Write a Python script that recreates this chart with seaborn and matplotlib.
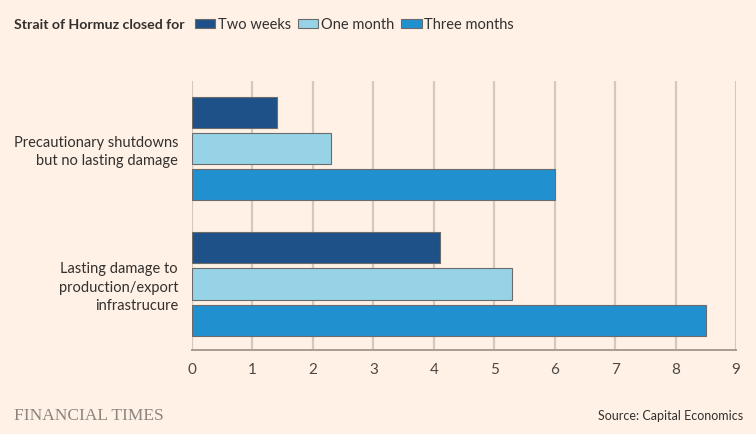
import matplotlib
matplotlib.use("Agg")
import matplotlib.pyplot as plt
import seaborn as sns
import pandas as pd
from matplotlib.patches import Patch

categories = ["Precautionary shutdowns\nbut no lasting damage",
              "Lasting damage to\nproduction/export\ninfrastrucure"]
durations = ["Two weeks", "One month", "Three months"]
two_weeks = [1.4, 4.1]
one_month = [2.3, 5.3]
three_months = [6.0, 8.5]
x_ticks = [0, 1, 2, 3, 4, 5, 6, 7, 8, 9]

bg = "#FFF1E5"
colors = ["#1F5189", "#96D3E6", "#2190CF"]

rows = []
for dur, vals in zip(durations, [two_weeks, one_month, three_months]):
    for cat, v in zip(categories, vals):
        rows.append({"category": cat, "duration": dur, "value": v})
df = pd.DataFrame(rows)

sns.set_theme(style="white")
plt.rcParams["font.family"] = ["Lato", "DejaVu Sans"]

fig = plt.figure(figsize=(7.56, 4.34), dpi=100, facecolor=bg)
ax = fig.add_axes([192/756, 1-350/434, (736-192)/756, (350-81)/434])
ax.set_facecolor(bg)

sns.barplot(data=df, y="category", x="value", hue="duration",
            order=categories, hue_order=durations, palette=colors,
            orient="h", width=0.8, gap=0.14, edgecolor="#6b6b6b", linewidth=0.8,
            ax=ax, legend=False, saturation=1)

ax.set_xlim(0, 9)
ax.set_ylim(1.487, -0.498)
ax.set_xticks(x_ticks)
ax.set_xticklabels([str(t) for t in x_ticks])
ax.xaxis.grid(True, color="#D4C9BE", linewidth=1.6)
ax.set_axisbelow(True)
for s in ["top", "right", "left"]:
    ax.spines[s].set_visible(False)
ax.spines["bottom"].set_color("#A69C93")
ax.spines["bottom"].set_linewidth(1.4)
ax.tick_params(axis="x", length=6, width=1.2, color="#A69C93",
               labelsize=11, labelcolor="#4d4845", pad=3)
ax.tick_params(axis="y", length=0, labelsize=10.5, labelcolor="#33302E", pad=10)
for lbl in ax.get_yticklabels():
    lbl.set_horizontalalignment("right")
    lbl.set_multialignment("right")
    lbl.set_linespacing(1.4)
ax.set_xlabel("")
ax.set_ylabel("")

# Title/legend line
fig.text(14/756, 1-25/434, "Strait of Hormuz closed for", fontsize=10.2,
         fontweight="bold", color="#33302E", va="center", ha="left")
handles = [Patch(facecolor=c, edgecolor="#6b6b6b", linewidth=0.8, label=d)
           for c, d in zip(colors, durations)]
fig.legend(handles=handles, loc="center left", bbox_to_anchor=(195/756, 1-25/434),
           ncol=3, frameon=False, fontsize=10.5, handlelength=1.4, handleheight=0.55,
           handletextpad=0.2, columnspacing=0.45, labelcolor="#33302E",
           borderaxespad=0, borderpad=0)

fig.text(14/756, 1-416/434, "FINANCIAL TIMES", fontsize=12.5,
         family=["Liberation Serif", "DejaVu Serif"], color="#8A8580",
         va="center", ha="left")
fig.text(743/756, 1-416/434, "Source: Capital Economics", fontsize=9,
         color="#33302E", va="center", ha="right")

fig.savefig("out.png", dpi=100, facecolor=bg)
